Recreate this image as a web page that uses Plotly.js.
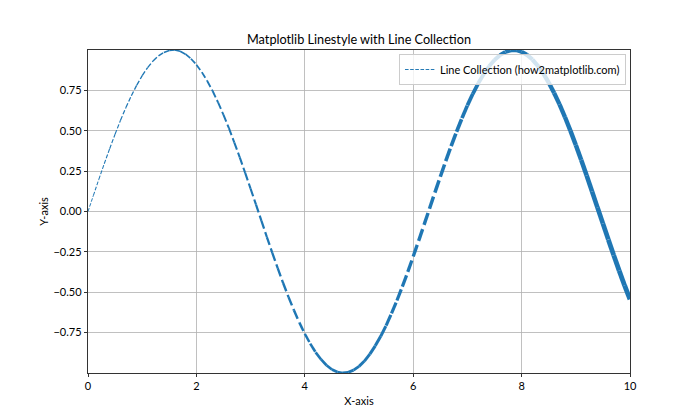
<!DOCTYPE html>
<html>
<head>
<meta charset="utf-8">
<script src="https://cdn.plot.ly/plotly-3.0.1.min.js"></script>
<style>html,body{margin:0;padding:0;background:#fff}#chart{width:700px;height:420px}</style>
</head>
<body>
<div id="chart"></div>
<script>
// Data
const xValues = [0.0,0.1,0.2,0.3,0.4,0.5,0.6,0.7,0.8,0.9,1.0,1.1,1.2,1.3,1.4,1.5,1.6,1.7,1.8,1.9,
  2.0,2.1,2.2,2.3,2.4,2.5,2.6,2.7,2.8,2.9,3.0,3.1,3.2,3.3,3.4,3.5,3.6,3.7,3.8,3.9,
  4.0,4.1,4.2,4.3,4.4,4.5,4.6,4.7,4.8,4.9,5.0,5.1,5.2,5.3,5.4,5.5,5.6,5.7,5.8,5.9,
  6.0,6.1,6.2,6.3,6.4,6.5,6.6,6.7,6.8,6.9,7.0,7.1,7.2,7.3,7.4,7.5,7.6,7.7,7.8,7.9,
  8.0,8.1,8.2,8.3,8.4,8.5,8.6,8.7,8.8,8.9,9.0,9.1,9.2,9.3,9.4,9.5,9.6,9.7,9.8,9.9,10.0];
const yValues = [0.000,0.100,0.199,0.296,0.389,0.479,0.565,0.644,0.717,0.783,
  0.841,0.891,0.932,0.964,0.985,0.997,1.000,0.992,0.974,0.946,
  0.909,0.863,0.808,0.746,0.675,0.598,0.516,0.427,0.335,0.239,
  0.141,0.042,-0.058,-0.158,-0.256,-0.351,-0.443,-0.530,-0.612,-0.688,
  -0.757,-0.818,-0.872,-0.916,-0.952,-0.978,-0.994,-1.000,-0.996,-0.982,
  -0.959,-0.926,-0.883,-0.832,-0.773,-0.706,-0.631,-0.551,-0.465,-0.374,
  -0.279,-0.182,-0.083,0.017,0.117,0.215,0.312,0.405,0.494,0.578,
  0.657,0.729,0.794,0.850,0.899,0.938,0.968,0.988,0.998,0.999,
  0.989,0.970,0.941,0.902,0.855,0.798,0.734,0.663,0.585,0.501,
  0.412,0.319,0.223,0.124,0.024,-0.075,-0.174,-0.271,-0.366,-0.458,-0.544];
const xTickVals = [0, 2, 4, 6, 8, 10];
const xTickText = ["0", "2", "4", "6", "8", "10"];
const yTickVals = [-0.75, -0.5, -0.25, 0, 0.25, 0.5, 0.75];
const yTickText = ["\u22120.75", "\u22120.50", "\u22120.25", "0.00", "0.25", "0.50", "0.75"];
const seriesName = "Line Collection (how2matplotlib.com)";

// Styling
const PX_PER_PT = 70 / 72;
const FONT = "Lato, 'Open Sans', sans-serif";
const SMALL = 11;
const color = "#1f77b4";
const nSeg = xValues.length - 1;
const traces = [];
for (let i = 0; i < nSeg; i++) {
  const lwPt = 1 + 4 * i / (nSeg - 1);
  const lw = lwPt * PX_PER_PT;
  traces.push({
    type: "scatter",
    mode: "lines",
    x: [xValues[i], xValues[i + 1]],
    y: [yValues[i], yValues[i + 1]],
    line: {color: color, width: lw, dash: (3.7 * lw).toFixed(2) + "px," + (1.6 * lw).toFixed(2) + "px"},
    name: seriesName,
    showlegend: i === 0,
    hoverinfo: "skip"
  });
}

const axisCommon = {
  showline: true, mirror: true, linecolor: "#000", linewidth: 0.8,
  showgrid: true, gridcolor: "#b0b0b0", gridwidth: 0.8,
  zeroline: false,
  ticks: "outside", ticklen: 3.4, tickwidth: 0.8, tickcolor: "#000",
  tickfont: {family: FONT, size: SMALL, color: "#000"},
  tickmode: "array"
};

const layout = {
  width: 700, height: 420,
  margin: {l: 88, r: 70, t: 50, b: 47, pad: 0},
  paper_bgcolor: "#fff", plot_bgcolor: "#fff",
  font: {family: FONT, color: "#000"},
  title: {text: "Matplotlib Linestyle with Line Collection", font: {family: FONT, size: 12.7, color: "#000"},
          x: 0.5, xref: "paper", xanchor: "center", y: 1 - 40 / 420, yref: "container", yanchor: "middle"},
  xaxis: Object.assign({}, axisCommon, {range: [0, 10], tickvals: xTickVals, ticktext: xTickText,
          title: {text: "X-axis", font: {family: FONT, size: SMALL, color: "#000"}, standoff: 5}}),
  yaxis: Object.assign({}, axisCommon, {range: [-1, 1], tickvals: yTickVals, ticktext: yTickText,
          title: {text: "Y-axis", font: {family: FONT, size: SMALL, color: "#000"}, standoff: 2}}),
  showlegend: true,
  legend: {x: 0.9926, xanchor: "right", y: 0.9876, yanchor: "top",
           bgcolor: "rgba(255,255,255,0.8)", bordercolor: "#cccccc", borderwidth: 1,
           font: {family: FONT, size: SMALL, color: "#000"}}
};

Plotly.newPlot("chart", traces, layout, {displayModeBar: false, staticPlot: true});
</script>
</body>
</html>
